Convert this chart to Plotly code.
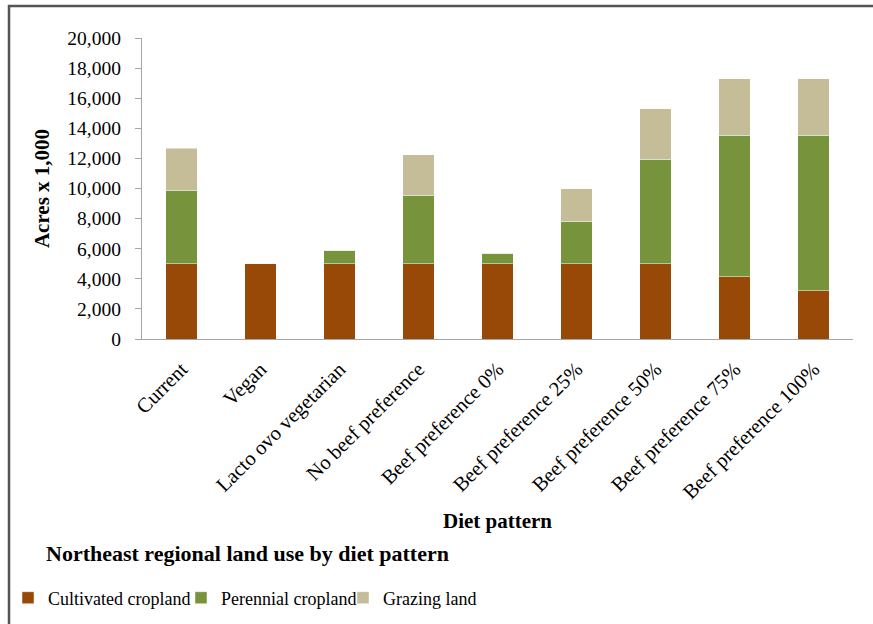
import plotly.graph_objects as go

categories = ["Current", "Vegan", "Lacto ovo vegetarian", "No beef preference",
              "Beef preference 0%", "Beef preference 25%", "Beef preference 50%",
              "Beef preference 75%", "Beef preference 100%"]
cultivated = [5000, 5050, 5000, 5000, 5000, 5000, 5000, 4130, 3200]
perennial = [4900, 0, 900, 4550, 700, 2830, 6940, 9410, 10340]
grazing = [2770, 0, 0, 2700, 0, 2170, 3360, 3750, 3750]

series_names = ["Cultivated cropland", "Perennial cropland", "Grazing land"]
colors = ["#984807", "#77933C", "#C4BD97"]
legend_ids = ["legend", "legend2", "legend3"]

FONT = "Liberation Serif, Times New Roman, serif"

fig = go.Figure()
for name, vals, col, lg in zip(series_names, [cultivated, perennial, grazing], colors, legend_ids):
    fig.add_trace(go.Bar(
        x=categories, y=vals, name=name, legend=lg,
        marker=dict(color=col, line=dict(color="rgba(255,255,255,0.6)", width=0.8)),
    ))

L, R, T, B = 142, 20, 38, 285
W, H = 873, 624
pw, ph = W - L - R, H - T - B

def px(xp):
    return (xp - L) / pw

def py(yp):
    return (H - B - yp) / ph

def leg(xpix):
    return dict(orientation="h", x=px(xpix), y=py(598), xanchor="left", yanchor="middle",
                font=dict(size=18), itemwidth=30, bgcolor="rgba(0,0,0,0)")

fig.update_layout(
    width=W, height=H,
    margin=dict(l=L, r=R, t=T, b=B, autoexpand=False),
    barmode="stack", bargap=0.6,
    plot_bgcolor="white", paper_bgcolor="white",
    font=dict(family=FONT, size=19, color="#000000"),
    showlegend=True,
    legend=leg(8),
    legend2=leg(181),
    legend3=leg(343),
    xaxis=dict(
        automargin=False,
        showline=True, linecolor="#a6a6a6", linewidth=1.3,
        ticks="", tickangle=-45, tickfont=dict(size=20.5), ticklabelstandoff=9,
        title=dict(text="<b>Diet pattern</b>", font=dict(size=21), standoff=10),
    ),
    yaxis=dict(
        automargin=False,
        range=[0, 20000], dtick=2000, tickformat=",d",
        showline=True, linecolor="#a6a6a6", linewidth=1.3,
        ticks="outside", ticklen=6, tickcolor="#a6a6a6",
        showgrid=False, zeroline=False, ticklabelstandoff=10,
        tickfont=dict(size=19.5),
        title=dict(text="<b>Acres x 1,000</b>", font=dict(size=21), standoff=11),
    ),
    annotations=[
        dict(text="<b>Northeast regional land use by diet pattern</b>",
             xref="paper", yref="paper", x=px(44), y=py(553),
             xanchor="left", yanchor="middle", showarrow=False,
             font=dict(size=22, family=FONT)),
    ],
    shapes=[
        dict(type="rect", xref="paper", yref="paper",
             x0=px(9), x1=px(900), y0=py(660), y1=py(6),
             line=dict(color="#555555", width=2.5), fillcolor="rgba(0,0,0,0)", layer="below"),
    ],
)

fig.write_html("out.html")
